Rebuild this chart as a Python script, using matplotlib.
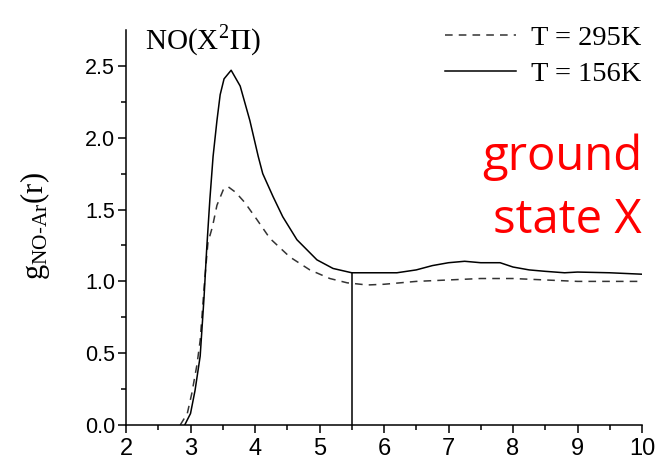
"""
Función de distribución radial g(r) NO-Ar para NO en estado fundamental X.
Reproduce la gráfica con dos temperaturas (295 K y 156 K).
"""

import numpy as np
import matplotlib
matplotlib.use('Agg')
import matplotlib.pyplot as plt


# ---------------------------------------------------------------------------
# Datos
# ---------------------------------------------------------------------------

r_295 = [2.84, 2.95, 3.02, 3.10, 3.15, 3.22, 3.27, 3.34, 3.41, 3.51, 3.58,
         3.70, 3.84, 4.03, 4.23, 4.54, 4.85, 5.16, 5.43, 5.74, 6.00, 6.50,
         7.00, 7.50, 8.00, 8.50, 9.00, 9.50, 10.0]
g_295 = [0.00, 0.08, 0.22, 0.42, 0.59, 1.01, 1.27, 1.38, 1.53, 1.64, 1.66,
         1.62, 1.55, 1.43, 1.30, 1.17, 1.08, 1.02, 0.99, 0.975, 0.98, 1.00,
         1.01, 1.02, 1.02, 1.01, 1.00, 1.00, 1.00]

r_156 = [2.91, 3.00, 3.07, 3.15, 3.21, 3.25, 3.30, 3.35, 3.41, 3.46, 3.52,
         3.63, 3.77, 3.92, 4.05, 4.12, 4.28, 4.43, 4.65, 4.96, 5.21, 5.50,
         5.80, 6.20, 6.50, 6.75, 7.00, 7.25, 7.50, 7.80, 8.00, 8.25, 8.50,
         8.80, 9.00, 9.50, 10.0]
g_156 = [0.00, 0.08, 0.24, 0.48, 0.89, 1.22, 1.57, 1.87, 2.12, 2.30, 2.41,
         2.47, 2.36, 2.12, 1.87, 1.75, 1.59, 1.45, 1.29, 1.15, 1.09, 1.06,
         1.06, 1.06, 1.08, 1.11, 1.13, 1.14, 1.13, 1.13, 1.10, 1.08, 1.07,
         1.06, 1.065, 1.06, 1.05]

r_corte = 5.5

x_ticks = [2, 3, 4, 5, 6, 7, 8, 9, 10]
y_ticks = [0.0, 0.5, 1.0, 1.5, 2.0, 2.5]


# ---------------------------------------------------------------------------
# Gráfica
# ---------------------------------------------------------------------------

def plot_gr(path: str) -> None:
    plt.rcParams['mathtext.fontset'] = 'stix'
    plt.rcParams['font.family'] = 'Liberation Sans'

    fig = plt.figure(figsize=(6.58, 4.59), dpi=100)
    ax = fig.add_axes([0.1915, 0.074, 0.7842, 0.8606])

    ax.plot(r_295, g_295, color='#333333', lw=1.1, dashes=(5, 4),
            label='T = 295K')
    ax.plot(r_156, g_156, color='black', lw=1.1, label='T = 156K')

    # línea vertical de corte en r = 5.5
    g_corte = np.interp(r_corte, r_156, g_156)
    ax.vlines(r_corte, 0, g_corte, color='black', lw=1.1)

    ax.set_xlim(2, 10)
    ax.set_ylim(0, 2.75)
    ax.set_xticks(x_ticks)
    ax.set_yticks(y_ticks)
    ax.set_xticks(np.arange(2.5, 10, 1.0), minor=True)
    ax.set_yticks(np.arange(0.25, 2.75, 0.5), minor=True)
    ax.set_xticklabels([str(v) for v in x_ticks])
    ax.set_yticklabels([f'{v:.1f}' for v in y_ticks])

    ax.spines['top'].set_visible(False)
    ax.spines['right'].set_visible(False)
    for s in ('left', 'bottom'):
        ax.spines[s].set_linewidth(1.1)
    ax.tick_params(which='major', direction='out', length=6, width=1.1)
    ax.tick_params(which='minor', direction='out', length=3.5, width=1.1)
    ax.tick_params(axis='x', pad=3, labelsize=17)
    ax.tick_params(axis='y', pad=2, labelsize=15.5)

    # título dentro del eje
    ax.text(2.3, 2.62, r'NO(X$^{\mathregular{2}}\Pi$)', fontsize=21,
            family='Liberation Serif', va='baseline', ha='left')

    ax.legend(loc='upper right', bbox_to_anchor=(1.005, 1.02),
              frameon=False, handlelength=2.5, handletextpad=0.55,
              labelspacing=0.35, borderaxespad=0, borderpad=0.1,
              prop={'family': 'Liberation Serif', 'size': 20.5})

    fig.text(35 / 658, 1 - 226 / 459, r'$\mathregular{g_{NO\text{-}Ar}(r)}$',
             rotation=90, fontsize=22, ha='center', va='center',
             family='Liberation Serif')

    # anotación en rojo
    fig.text(642 / 658, 1 - 170 / 459, 'ground', color='red',
             family='Open Sans', fontsize=34, ha='right', va='baseline')
    fig.text(642 / 658, 1 - 233 / 459, 'state X', color='red',
             family='Open Sans', fontsize=34, ha='right', va='baseline')

    fig.savefig(path, dpi=100)
    plt.close(fig)


if __name__ == '__main__':
    plot_gr('out.png')
